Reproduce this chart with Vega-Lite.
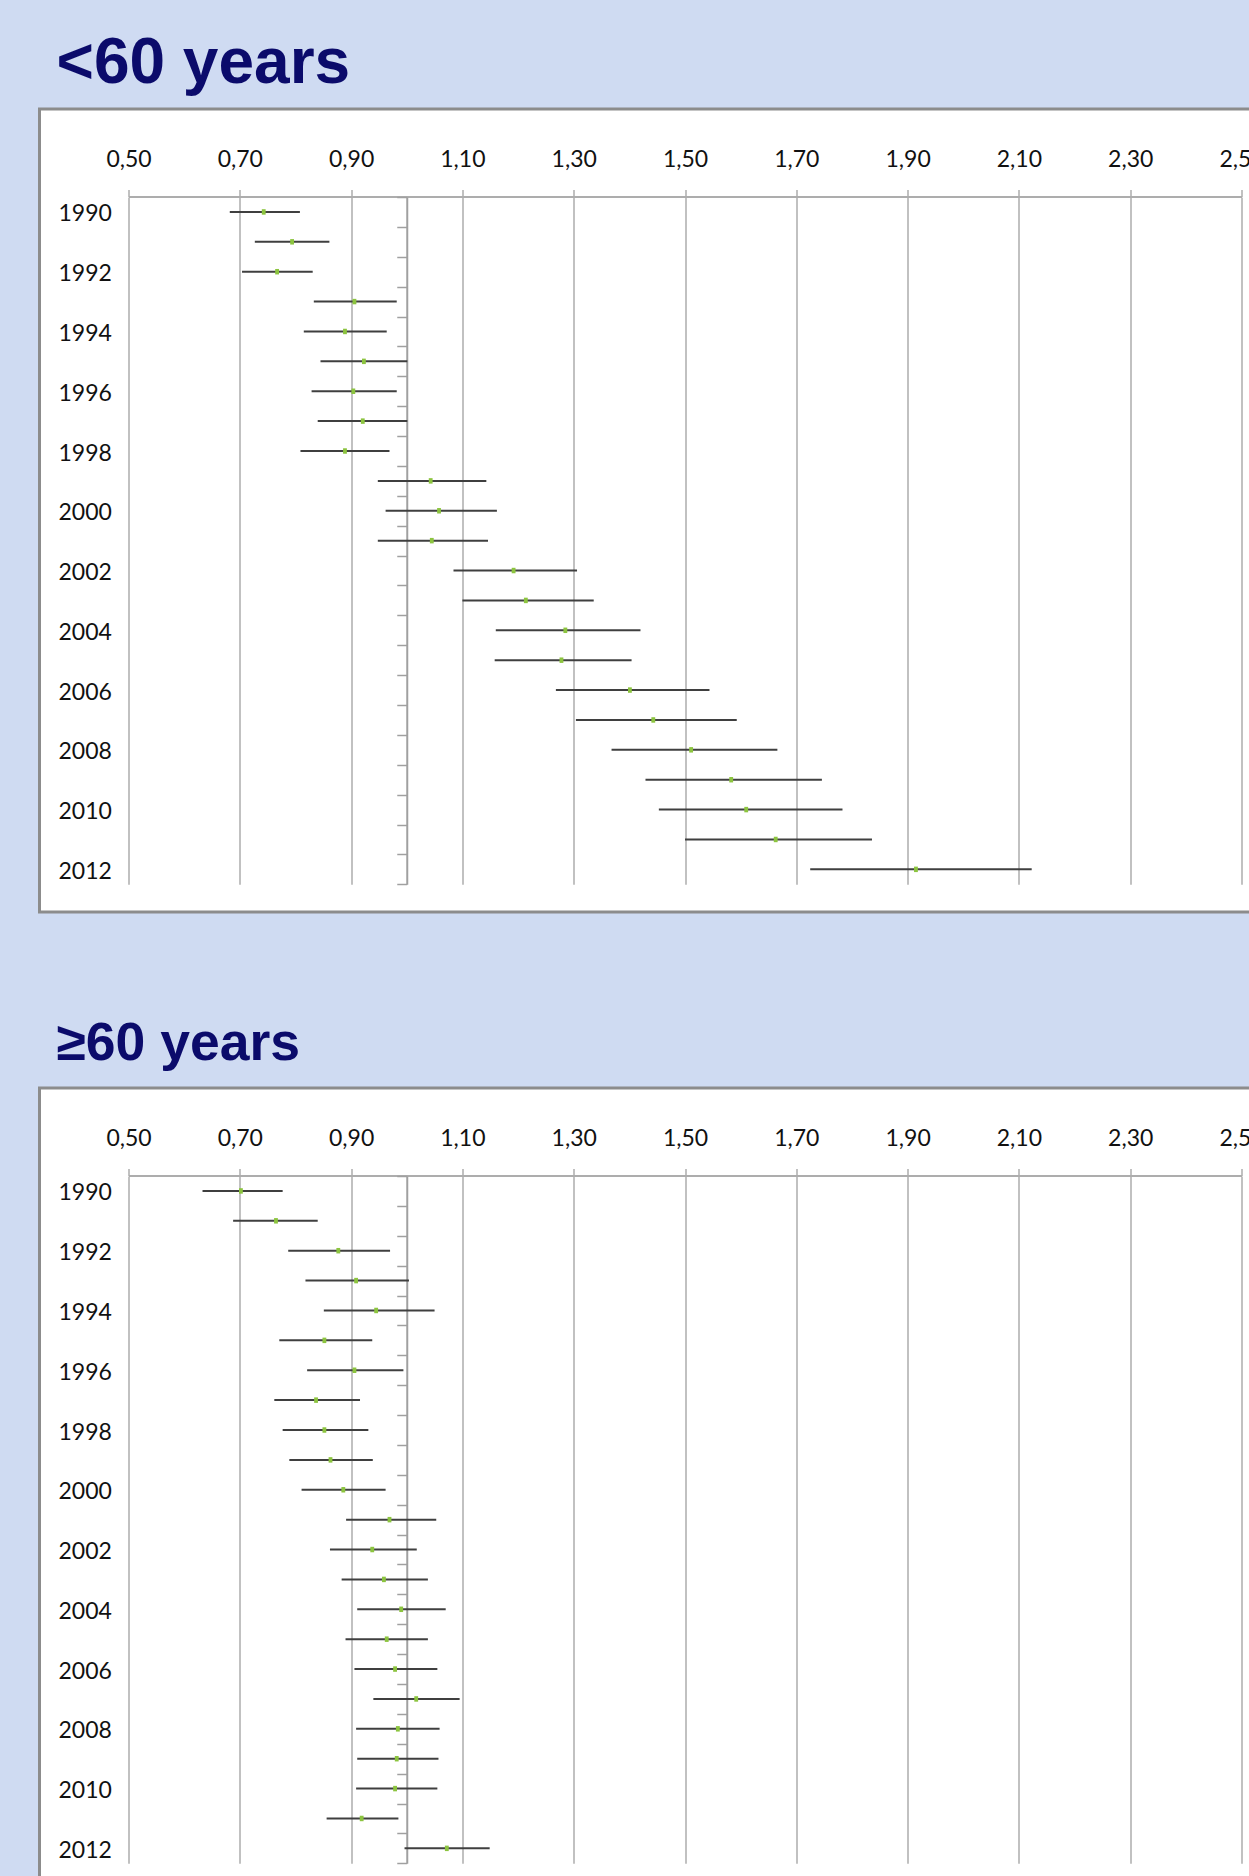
{
  "$schema": "https://vega.github.io/schema/vega-lite/v6.json",
  "background": "#CFDBF2",
  "padding": {"left": 37.5, "top": 30, "right": -11.5, "bottom": -17},
  "spacing": 101,
  "config": {
    "view": {"fill": "white", "stroke": "#8C8C8C", "strokeWidth": 3}
  },
  "datasets": {
    "young": [
      {"year": 1990, "or": 0.743, "lo": 0.682, "hi": 0.808},
      {"year": 1991, "or": 0.794, "lo": 0.727, "hi": 0.861},
      {"year": 1992, "or": 0.767, "lo": 0.704, "hi": 0.831},
      {"year": 1993, "or": 0.906, "lo": 0.833, "hi": 0.982},
      {"year": 1994, "or": 0.889, "lo": 0.815, "hi": 0.964},
      {"year": 1995, "or": 0.923, "lo": 0.845, "hi": 1.001},
      {"year": 1996, "or": 0.904, "lo": 0.829, "hi": 0.982},
      {"year": 1997, "or": 0.921, "lo": 0.840, "hi": 1.001},
      {"year": 1998, "or": 0.889, "lo": 0.809, "hi": 0.969},
      {"year": 1999, "or": 1.043, "lo": 0.948, "hi": 1.143},
      {"year": 2000, "or": 1.058, "lo": 0.962, "hi": 1.162},
      {"year": 2001, "or": 1.045, "lo": 0.948, "hi": 1.146},
      {"year": 2002, "or": 1.192, "lo": 1.084, "hi": 1.306},
      {"year": 2003, "or": 1.214, "lo": 1.100, "hi": 1.336},
      {"year": 2004, "or": 1.285, "lo": 1.160, "hi": 1.420},
      {"year": 2005, "or": 1.278, "lo": 1.158, "hi": 1.404},
      {"year": 2006, "or": 1.401, "lo": 1.268, "hi": 1.544},
      {"year": 2007, "or": 1.443, "lo": 1.304, "hi": 1.593},
      {"year": 2008, "or": 1.511, "lo": 1.368, "hi": 1.666},
      {"year": 2009, "or": 1.583, "lo": 1.429, "hi": 1.746},
      {"year": 2010, "or": 1.610, "lo": 1.453, "hi": 1.783},
      {"year": 2011, "or": 1.663, "lo": 1.500, "hi": 1.836},
      {"year": 2012, "or": 1.915, "lo": 1.725, "hi": 2.123}
    ],
    "old": [
      {"year": 1990, "or": 0.702, "lo": 0.633, "hi": 0.777},
      {"year": 1991, "or": 0.765, "lo": 0.688, "hi": 0.840},
      {"year": 1992, "or": 0.877, "lo": 0.787, "hi": 0.970},
      {"year": 1993, "or": 0.909, "lo": 0.818, "hi": 1.004},
      {"year": 1994, "or": 0.945, "lo": 0.851, "hi": 1.050},
      {"year": 1995, "or": 0.852, "lo": 0.771, "hi": 0.938},
      {"year": 1996, "or": 0.906, "lo": 0.821, "hi": 0.994},
      {"year": 1997, "or": 0.837, "lo": 0.762, "hi": 0.916},
      {"year": 1998, "or": 0.852, "lo": 0.777, "hi": 0.931},
      {"year": 1999, "or": 0.863, "lo": 0.789, "hi": 0.939},
      {"year": 2000, "or": 0.886, "lo": 0.811, "hi": 0.962},
      {"year": 2001, "or": 0.969, "lo": 0.891, "hi": 1.053},
      {"year": 2002, "or": 0.938, "lo": 0.862, "hi": 1.018},
      {"year": 2003, "or": 0.959, "lo": 0.883, "hi": 1.038},
      {"year": 2004, "or": 0.990, "lo": 0.911, "hi": 1.070},
      {"year": 2005, "or": 0.964, "lo": 0.890, "hi": 1.038},
      {"year": 2006, "or": 0.979, "lo": 0.906, "hi": 1.055},
      {"year": 2007, "or": 1.017, "lo": 0.940, "hi": 1.095},
      {"year": 2008, "or": 0.984, "lo": 0.909, "hi": 1.059},
      {"year": 2009, "or": 0.982, "lo": 0.911, "hi": 1.057},
      {"year": 2010, "or": 0.979, "lo": 0.909, "hi": 1.055},
      {"year": 2011, "or": 0.919, "lo": 0.856, "hi": 0.985},
      {"year": 2012, "or": 1.072, "lo": 0.996, "hi": 1.149}
    ]
  },
  "vconcat": [
    {
      "width": 1220,
      "height": 803,
      "title": {"text": "<60 years", "anchor": "start", "font": "Liberation Sans", "fontSize": 64, "fontWeight": "bold", "color": "#0B0B6B", "baseline": "alphabetic", "offset": -37.5, "dx": 17},
      "data": {"name": "young"},
      "resolve": {"axis": {"y": "independent"}},
      "layer": [
        {
          "mark": {"type": "rule", "color": "#3F3F3F", "strokeWidth": 2},
          "encoding": {
            "x": {"field": "lo", "type": "quantitative",
              "scale": {"domain": [0.5, 2.5], "range": [89, 1202], "zero": false, "nice": false},
              "axis": {"orient": "top", "offset": -87.5, "values": [0.5, 0.7, 0.9, 1.1, 1.3, 1.5, 1.7, 1.9, 2.1, 2.3, 2.5], "labelExpr": "replace(format(datum.value, '.2f'), '.', ',')", "grid": true, "gridColor": "#ADADAD", "gridWidth": 1.5, "domain": true, "domainColor": "#ADADAD", "domainWidth": 2, "ticks": true, "tickSize": 7, "tickColor": "#ADADAD", "tickWidth": 1.5, "labelPadding": 18, "labelFont": "Lato", "labelFontSize": 23, "labelColor": "#111111", "title": null, "labelFlush": false, "labelOverlap": false}},
            "x2": {"field": "hi"},
            "y": {"field": "year", "type": "ordinal",
              "scale": {"type": "band", "range": [88, 775.3], "paddingInner": 0, "paddingOuter": 0},
              "axis": {"orient": "left", "offset": -367.25, "labels": false, "ticks": true, "tickBand": "extent", "tickSize": 10, "tickColor": "#A0A0A0", "tickWidth": 1.5, "domain": true, "domainColor": "#A0A0A0", "domainWidth": 2, "grid": false, "title": null}}
          }
        },
        {
          "mark": {"type": "point", "shape": "M-0.7,-1L0.7,-1L0.7,1L-0.7,1Z", "size": 30, "filled": true, "color": "#8CC43F", "opacity": 1},
          "encoding": {
            "x": {"field": "or", "type": "quantitative",
              "scale": {"domain": [0.5, 2.5], "range": [89, 1202], "zero": false, "nice": false},
              "axis": {"orient": "top", "offset": -87.5, "values": [0.5, 0.7, 0.9, 1.1, 1.3, 1.5, 1.7, 1.9, 2.1, 2.3, 2.5], "labelExpr": "replace(format(datum.value, '.2f'), '.', ',')", "grid": true, "gridColor": "#ADADAD", "gridWidth": 1.5, "domain": true, "domainColor": "#ADADAD", "domainWidth": 2, "ticks": true, "tickSize": 7, "tickColor": "#ADADAD", "tickWidth": 1.5, "labelPadding": 18, "labelFont": "Lato", "labelFontSize": 23, "labelColor": "#111111", "title": null, "labelFlush": false, "labelOverlap": false}},
            "y": {"field": "year", "type": "ordinal",
              "scale": {"type": "band", "range": [88, 775.3], "paddingInner": 0, "paddingOuter": 0},
              "axis": {"orient": "left", "offset": -89, "domain": false, "ticks": false, "grid": false, "labelAlign": "left", "labelBaseline": "middle", "labelOffset": 2.5, "labelPadding": 70.5, "labelFont": "Lato", "labelFontSize": 23, "labelColor": "#111111", "values": [1990, 1992, 1994, 1996, 1998, 2000, 2002, 2004, 2006, 2008, 2010, 2012], "title": null}}
          }
        }
      ]
    },
    {
      "width": 1220,
      "height": 803,
      "title": {"text": "≥60 years", "anchor": "start", "font": "Liberation Sans", "fontSize": 53.5, "fontWeight": "bold", "color": "#0B0B6B", "baseline": "alphabetic", "offset": -25.4, "dx": 17},
      "data": {"name": "old"},
      "resolve": {"axis": {"y": "independent"}},
      "layer": [
        {
          "mark": {"type": "rule", "color": "#3F3F3F", "strokeWidth": 2},
          "encoding": {
            "x": {"field": "lo", "type": "quantitative",
              "scale": {"domain": [0.5, 2.5], "range": [89, 1202], "zero": false, "nice": false},
              "axis": {"orient": "top", "offset": -87.5, "values": [0.5, 0.7, 0.9, 1.1, 1.3, 1.5, 1.7, 1.9, 2.1, 2.3, 2.5], "labelExpr": "replace(format(datum.value, '.2f'), '.', ',')", "grid": true, "gridColor": "#ADADAD", "gridWidth": 1.5, "domain": true, "domainColor": "#ADADAD", "domainWidth": 2, "ticks": true, "tickSize": 7, "tickColor": "#ADADAD", "tickWidth": 1.5, "labelPadding": 18, "labelFont": "Lato", "labelFontSize": 23, "labelColor": "#111111", "title": null, "labelFlush": false, "labelOverlap": false}},
            "x2": {"field": "hi"},
            "y": {"field": "year", "type": "ordinal",
              "scale": {"type": "band", "range": [88, 775.3], "paddingInner": 0, "paddingOuter": 0},
              "axis": {"orient": "left", "offset": -367.25, "labels": false, "ticks": true, "tickBand": "extent", "tickSize": 10, "tickColor": "#A0A0A0", "tickWidth": 1.5, "domain": true, "domainColor": "#A0A0A0", "domainWidth": 2, "grid": false, "title": null}}
          }
        },
        {
          "mark": {"type": "point", "shape": "M-0.7,-1L0.7,-1L0.7,1L-0.7,1Z", "size": 30, "filled": true, "color": "#8CC43F", "opacity": 1},
          "encoding": {
            "x": {"field": "or", "type": "quantitative",
              "scale": {"domain": [0.5, 2.5], "range": [89, 1202], "zero": false, "nice": false},
              "axis": {"orient": "top", "offset": -87.5, "values": [0.5, 0.7, 0.9, 1.1, 1.3, 1.5, 1.7, 1.9, 2.1, 2.3, 2.5], "labelExpr": "replace(format(datum.value, '.2f'), '.', ',')", "grid": true, "gridColor": "#ADADAD", "gridWidth": 1.5, "domain": true, "domainColor": "#ADADAD", "domainWidth": 2, "ticks": true, "tickSize": 7, "tickColor": "#ADADAD", "tickWidth": 1.5, "labelPadding": 18, "labelFont": "Lato", "labelFontSize": 23, "labelColor": "#111111", "title": null, "labelFlush": false, "labelOverlap": false}},
            "y": {"field": "year", "type": "ordinal",
              "scale": {"type": "band", "range": [88, 775.3], "paddingInner": 0, "paddingOuter": 0},
              "axis": {"orient": "left", "offset": -89, "domain": false, "ticks": false, "grid": false, "labelAlign": "left", "labelBaseline": "middle", "labelOffset": 2.5, "labelPadding": 70.5, "labelFont": "Lato", "labelFontSize": 23, "labelColor": "#111111", "values": [1990, 1992, 1994, 1996, 1998, 2000, 2002, 2004, 2006, 2008, 2010, 2012], "title": null}}
          }
        }
      ]
    }
  ]
}
